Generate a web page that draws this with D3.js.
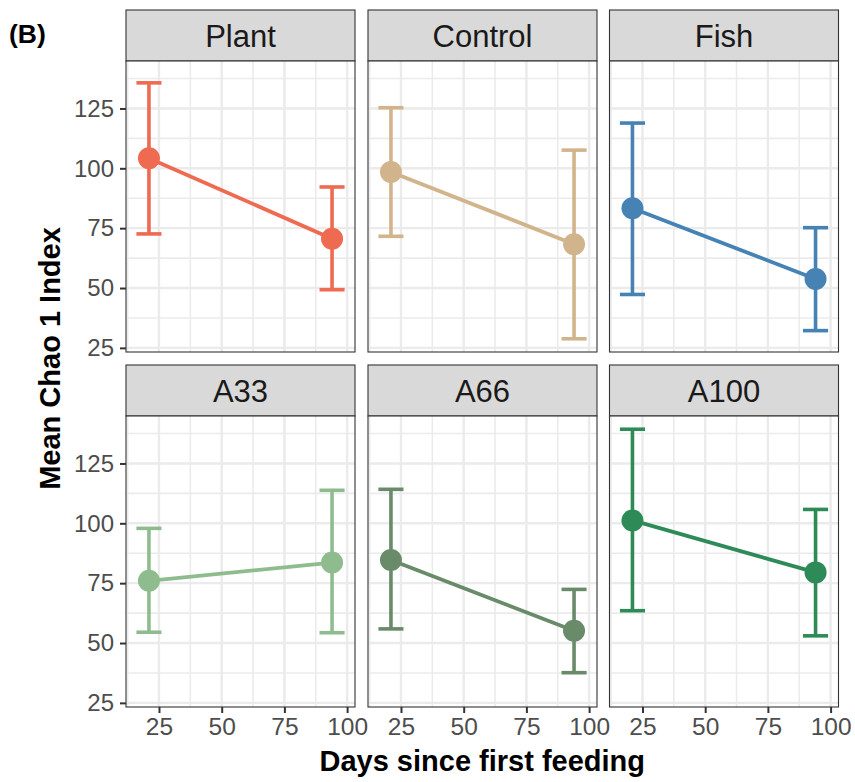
<!DOCTYPE html>
<html>
<head>
<meta charset="utf-8">
<script src="https://cdn.jsdelivr.net/npm/d3@7"></script>
<style>
  html, body { margin: 0; padding: 0; background: #fff; }
  svg { display: block; font-family: "Liberation Sans", Arial, sans-serif; }
</style>
</head>
<body>
<svg id="chart" width="855" height="782"></svg>
<script>
// Diet groups, one facet each (row-major order)
const groups = ["Plant", "Control", "Fish", "A33", "A66", "A100"];
const groupColors = ["#EE6A50", "#D2B48C", "#4682B4", "#8FBC8F", "#698B69", "#2E8B57"];

// Sampling days since first feeding
const days = [21, 94];

// Mean Chao 1 index per group at each day
const meanChao = [
  [104.2, 70.6],
  [98.5, 68.3],
  [83.3, 53.8],
  [76.0, 83.6],
  [84.7, 55.1],
  [101.2, 79.5]
];
// Lower and upper error-bar limits
const lowerChao = [
  [72.6, 49.3],
  [71.6, 28.8],
  [47.3, 32.2],
  [54.5, 54.3],
  [55.9, 37.6],
  [63.5, 53.0]
];
const upperChao = [
  [135.7, 92.2],
  [125.3, 107.6],
  [118.9, 75.2],
  [97.9, 113.8],
  [114.2, 72.4],
  [139.3, 105.8]
];

const xTicks = [25, 50, 75, 100];
const yTicks = [25, 50, 75, 100, 125];
const capHalfWidth = 5; // in days

const svg = d3.select("#chart");

// Facet geometry
const panelLefts = [126, 368, 609.5];
const panelWidth = 229;
const stripTops = [10, 365];
const stripH = 51;
const panelH = 291;

// Scales (shared across facets; ggplot-style 5% expansion)
const xLo = d3.min(days) - capHalfWidth, xHi = d3.max(days) + capHalfWidth;
const xPad = (xHi - xLo) * 0.05;
const yLo = d3.min(lowerChao.flat()), yHi = d3.max(upperChao.flat());
const yPad = (yHi - yLo) * 0.05;

const x = d3.scaleLinear().domain([xLo - xPad, xHi + xPad]).range([0, panelWidth]);
const y = d3.scaleLinear().domain([yLo - yPad, yHi + yPad]).range([panelH, 0]);

const xMinor = d3.range(-100, 300, 12.5).filter(v => v >= x.domain()[0] && v <= x.domain()[1]);
const yMinor = d3.range(-100, 300, 12.5).filter(v => v >= y.domain()[0] && v <= y.domain()[1]);

const lineGen = d3.line().x(d => x(d.day)).y(d => y(d.mean));

groups.forEach((g, i) => {
  const col = i % 3, row = Math.floor(i / 3);
  const left = panelLefts[col];
  const stripTop = stripTops[row];
  const top = stripTop + stripH;
  const color = groupColors[i];

  // strip
  svg.append("rect")
    .attr("x", left).attr("y", stripTop)
    .attr("width", panelWidth).attr("height", stripH)
    .attr("fill", "#D9D9D9").attr("stroke", "#333333").attr("stroke-width", 1.1);
  svg.append("text")
    .attr("x", left + panelWidth / 2).attr("y", stripTop + 37)
    .attr("text-anchor", "middle")
    .attr("font-size", 31).attr("fill", "#1A1A1A")
    .text(g);

  const p = svg.append("g").attr("transform", `translate(${left},${top})`);

  p.append("rect").attr("width", panelWidth).attr("height", panelH).attr("fill", "#fff");

  // grid
  p.selectAll(".gxm").data(xMinor).join("line")
    .attr("x1", d => x(d)).attr("x2", d => x(d)).attr("y1", 0).attr("y2", panelH)
    .attr("stroke", "#EBEBEB").attr("stroke-width", 1.6);
  p.selectAll(".gym").data(yMinor).join("line")
    .attr("y1", d => y(d)).attr("y2", d => y(d)).attr("x1", 0).attr("x2", panelWidth)
    .attr("stroke", "#EBEBEB").attr("stroke-width", 1.6);
  p.selectAll(".gxM").data(xTicks).join("line")
    .attr("x1", d => x(d)).attr("x2", d => x(d)).attr("y1", 0).attr("y2", panelH)
    .attr("stroke", "#EBEBEB").attr("stroke-width", 2.4);
  p.selectAll(".gyM").data(yTicks).join("line")
    .attr("y1", d => y(d)).attr("y2", d => y(d)).attr("x1", 0).attr("x2", panelWidth)
    .attr("stroke", "#EBEBEB").attr("stroke-width", 2.4);

  const pts = days.map((d, k) => ({
    day: d, mean: meanChao[i][k], lo: lowerChao[i][k], hi: upperChao[i][k]
  }));

  // error bars
  const eb = p.append("g").attr("stroke", color).attr("stroke-width", 3.6).attr("fill", "none");
  pts.forEach(d => {
    eb.append("line").attr("x1", x(d.day)).attr("x2", x(d.day)).attr("y1", y(d.lo)).attr("y2", y(d.hi));
    eb.append("line").attr("x1", x(d.day - capHalfWidth)).attr("x2", x(d.day + capHalfWidth)).attr("y1", y(d.lo)).attr("y2", y(d.lo));
    eb.append("line").attr("x1", x(d.day - capHalfWidth)).attr("x2", x(d.day + capHalfWidth)).attr("y1", y(d.hi)).attr("y2", y(d.hi));
  });

  // connecting line
  p.append("path").datum(pts).attr("d", lineGen)
    .attr("fill", "none").attr("stroke", color).attr("stroke-width", 3.8);

  // points
  p.selectAll("circle").data(pts).join("circle")
    .attr("cx", d => x(d.day)).attr("cy", d => y(d.mean)).attr("r", 11)
    .attr("fill", color);

  // border
  p.append("rect").attr("width", panelWidth).attr("height", panelH)
    .attr("fill", "none").attr("stroke", "#333333").attr("stroke-width", 1.1);

  // y axis on first column
  if (col === 0) {
    const ya = p.append("g").call(d3.axisLeft(y).tickValues(yTicks).tickSize(6).tickPadding(6));
    ya.select(".domain").remove();
    ya.selectAll(".tick line").attr("stroke", "#333333").attr("stroke-width", 2);
    ya.selectAll(".tick text").attr("font-size", 24).attr("fill", "#4D4D4D")
      .attr("font-family", "Liberation Sans, Arial, sans-serif");
  }
  // x axis on bottom row
  if (row === 1) {
    const xa = p.append("g").attr("transform", `translate(0,${panelH})`)
      .call(d3.axisBottom(x).tickValues(xTicks).tickSize(6).tickPadding(5));
    xa.select(".domain").remove();
    xa.selectAll(".tick line").attr("stroke", "#333333").attr("stroke-width", 2);
    xa.selectAll(".tick text").attr("font-size", 24.5).attr("fill", "#4D4D4D")
      .attr("font-family", "Liberation Sans, Arial, sans-serif");
  }
});

// axis titles
svg.append("text")
  .attr("x", (panelLefts[0] + panelLefts[2] + panelWidth) / 2).attr("y", 771)
  .attr("text-anchor", "middle").attr("font-weight", "bold").attr("font-size", 29)
  .attr("fill", "#000").text("Days since first feeding");

svg.append("text")
  .attr("transform", `translate(60,${(stripTops[0] + stripTops[1] + stripH + panelH) / 2}) rotate(-90)`)
  .attr("text-anchor", "middle").attr("font-weight", "bold").attr("font-size", 29)
  .attr("fill", "#000").text("Mean Chao 1 Index");

// panel tag
svg.append("text")
  .attr("x", 9).attr("y", 43).attr("font-weight", "bold").attr("font-size", 26.5)
  .attr("fill", "#000").text("(B)");
</script>
</body>
</html>
